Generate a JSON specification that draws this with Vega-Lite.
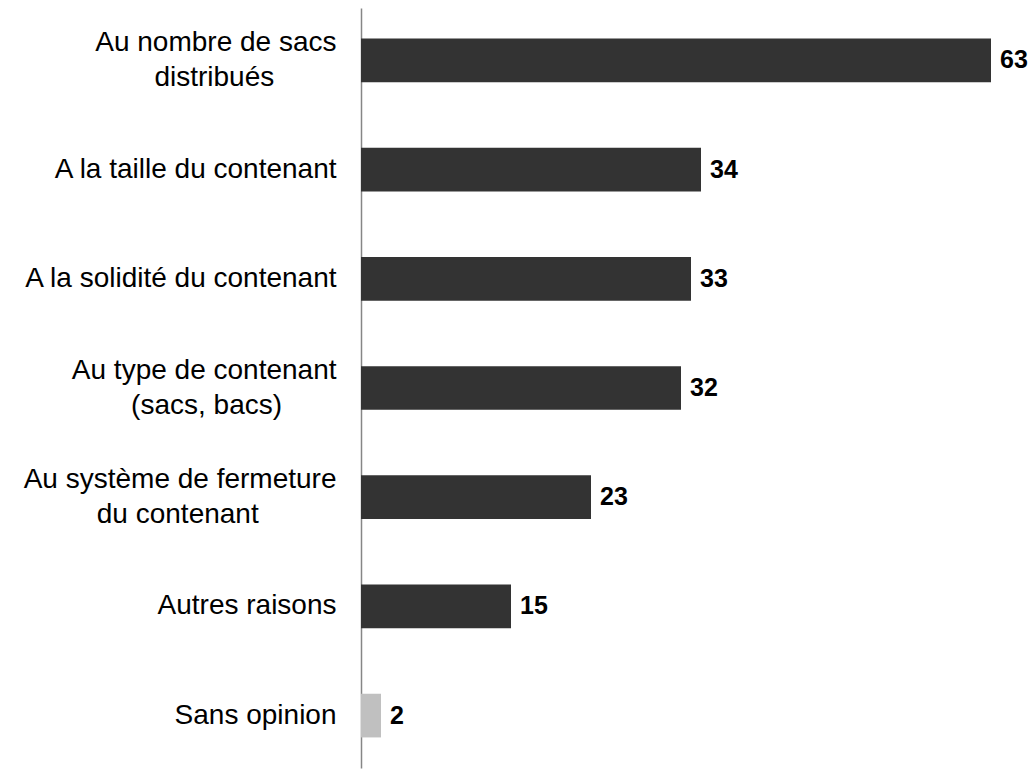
{
  "$schema": "https://vega.github.io/schema/vega-lite/v6.json",
  "width": 675,
  "height": 760,
  "autosize": {"type": "none"},
  "padding": {"left": 361, "top": 8, "right": 0, "bottom": 1},
  "background": "white",
  "config": {"view": {"stroke": null}},
  "data": {
    "values": [
      {"label": "Au nombre de sacs|distribués\u00a0\u00a0\u00a0\u00a0\u00a0\u00a0\u00a0\u00a0\u200b", "value": 63, "group": "main"},
      {"label": "A la taille du contenant", "value": 34, "group": "main"},
      {"label": "A la solidité du contenant", "value": 33, "group": "main"},
      {"label": "Au type de contenant|(sacs, bacs)\u00a0\u00a0\u00a0\u00a0\u00a0\u00a0\u00a0\u200b", "value": 32, "group": "main"},
      {"label": "Au système de fermeture|du contenant\u00a0\u00a0\u00a0\u00a0\u00a0\u00a0\u00a0\u00a0\u00a0\u00a0\u200b", "value": 23, "group": "main"},
      {"label": "Autres raisons", "value": 15, "group": "main"},
      {"label": "Sans opinion", "value": 2, "group": "none"}
    ]
  },
  "encoding": {
    "y": {
      "field": "label",
      "type": "nominal",
      "sort": null,
      "scale": {"paddingInner": 0.6, "paddingOuter": 0.28},
      "axis": {
        "title": null,
        "ticks": false,
        "labelExpr": "split(datum.label, '|')",
        "labelFont": "Liberation Sans",
        "labelFontSize": 28,
        "labelColor": "#000000",
        "labelPadding": 25,
        "labelLimit": 0,
        "labelLineHeight": 35,
        "labelBaseline": "middle",
        "labelOffset": {"condition": {"test": "indexof(datum.value, '|') >= 0", "value": -17.5}, "value": 0},
        "domainColor": "#868686",
        "domainWidth": 1.5,
        "grid": false
      }
    },
    "x": {
      "field": "value",
      "type": "quantitative",
      "scale": {"domain": [0, 67.5], "nice": false},
      "axis": null
    }
  },
  "layer": [
    {
      "mark": {"type": "bar"},
      "encoding": {
        "color": {
          "field": "group",
          "type": "nominal",
          "scale": {"domain": ["main", "none"], "range": ["#333333", "#c0c0c0"]},
          "legend": null
        }
      }
    },
    {
      "mark": {"type": "text", "align": "left", "baseline": "middle", "dx": 9, "font": "Liberation Sans", "fontSize": 25, "fontWeight": "bold", "color": "#000000"},
      "encoding": {"text": {"field": "value", "type": "quantitative"}}
    }
  ]
}
